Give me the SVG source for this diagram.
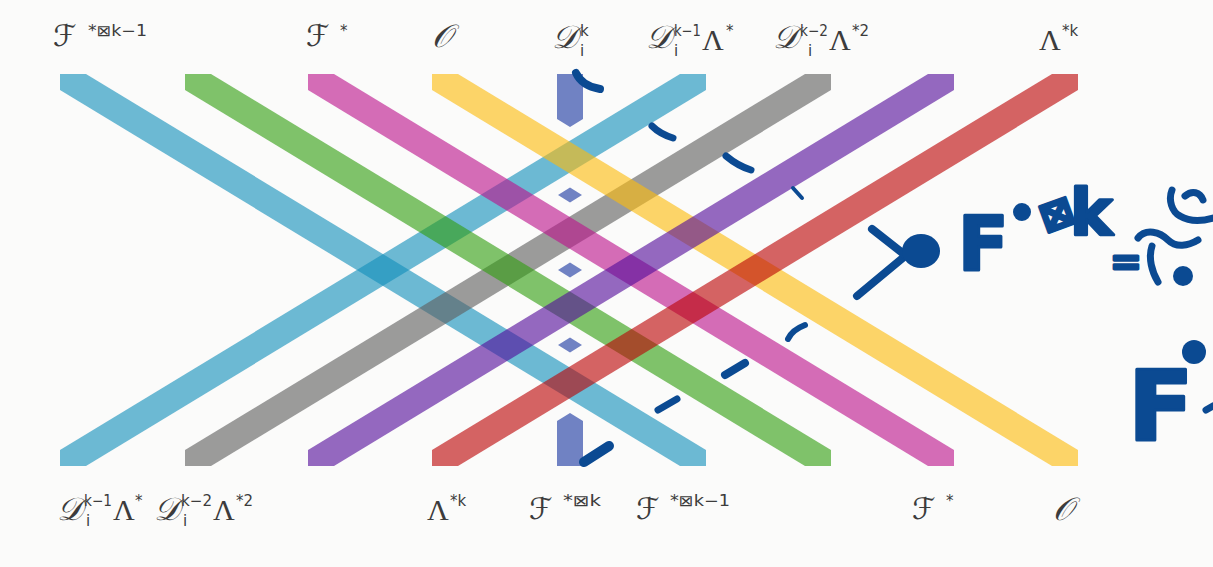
<svg xmlns="http://www.w3.org/2000/svg" width="1213" height="567" viewBox="0 0 1213 567">
<style>
.band{opacity:0.62}
.cy{fill:#1490bb}.gr{fill:#329e12}.pk{fill:#bb148c}.ye{fill:#fcbb0f}
.gy{fill:#5f5f5f}.pu{fill:#540d9b}.rd{fill:#bb0507}.bl{fill:#7082c3}
.scr{font-family:"DejaVu Serif","DejaVu Sans","Noto Sans",serif;font-style:italic;font-size:30px;fill:#3c3c3c}
.scd{font-size:32px}
.lam{font-family:"Liberation Serif","DejaVu Serif",serif;font-size:30px;fill:#3c3c3c}
.sup{font-family:"DejaVu Sans","Noto Sans",sans-serif;font-size:15px;fill:#3c3c3c}
.ink{fill:none;stroke:#0b4a92;stroke-linecap:round;stroke-linejoin:round}
.hw{font-family:"DejaVu Sans","Noto Sans",sans-serif;font-weight:bold;fill:#0b4a92;stroke:#0b4a92;stroke-width:3;stroke-linejoin:round}
</style>
<rect width="1213" height="567" fill="#fbfbfa"/>

<g id="connectors">
  <polygon id="band-cyan-down" class="band cy" points="60,74 86,74 706,450 706,466 680,466 60,90"/>
  <polygon id="band-cyan-up" class="band cy" points="60,466 86,466 706,90 706,74 680,74 60,450"/>
  <polygon id="band-gray-up" class="band gy" points="185,466 211,466 831,90 831,74 805,74 185,450"/>
  <polygon id="band-green-down" class="band gr" points="185,74 211,74 831,450 831,466 805,466 185,90"/>
  <polygon id="band-pink-down" class="band pk" points="308,74 334,74 954,450 954,466 928,466 308,90"/>
  <polygon id="band-yellow-down" class="band ye" points="432,74 458,74 1078,450 1078,466 1052,466 432,90"/>
  <polygon id="band-purple-up" class="band pu" points="308,466 334,466 954,90 954,74 928,74 308,450"/>
  <polygon id="band-red-up" class="band rd" points="432,466 458,466 1078,90 1078,74 1052,74 432,450"/>
  <polygon id="band-center-top" class="bl" points="557,74 583,74 583,119 570,127 557,119"/>
  <polygon id="band-center-bottom" class="bl" points="557,466 557,421 570,413 583,421 583,466"/>
  <polygon class="bl" points="558,195 570,187.5 582,195 570,202.5"/>
  <polygon class="bl" points="558,270 570,262.5 582,270 570,277.5"/>
  <polygon class="bl" points="558,345 570,337.5 582,345 570,352.5"/>
</g>

<g id="labels-top">
  <g id="top-F-k1"><text class="scr" x="53" y="46">ℱ</text><text class="sup" x="88" y="36" textLength="59" lengthAdjust="spacingAndGlyphs">*⊠k−1</text></g>
  <g id="top-F"><text class="scr" x="306" y="46">ℱ</text><text class="sup" x="340" y="36">*</text></g>
  <g id="top-O"><text class="scr scd" x="432" y="47">𝒪</text></g>
  <g id="top-Dk"><text class="scr scd" x="552" y="48">𝒟</text><text class="sup" x="580" y="36">k</text><text class="sup" x="580" y="56">i</text></g>
  <g id="top-Dk1L"><text class="scr scd" x="646" y="48">𝒟</text><text class="sup" x="674" y="36" textLength="27" lengthAdjust="spacingAndGlyphs">k−1</text><text class="sup" x="674" y="56">i</text><text class="lam" x="702" y="50">Λ</text><text class="sup" x="726" y="36">*</text></g>
  <g id="top-Dk2L2"><text class="scr scd" x="773" y="48">𝒟</text><text class="sup" x="800" y="36" textLength="28" lengthAdjust="spacingAndGlyphs">k−2</text><text class="sup" x="808" y="56">i</text><text class="lam" x="829" y="50">Λ</text><text class="sup" x="852" y="36">*2</text></g>
  <g id="top-Lk"><text class="lam" x="1039" y="50">Λ</text><text class="sup" x="1062" y="36">*k</text></g>
</g>

<g id="labels-bottom">
  <g id="bot-Dk1L"><text class="scr scd" x="57" y="520">𝒟</text><text class="sup" x="84" y="506" textLength="28" lengthAdjust="spacingAndGlyphs">k−1</text><text class="sup" x="86" y="526">i</text><text class="lam" x="113" y="520">Λ</text><text class="sup" x="135" y="506">*</text></g>
  <g id="bot-Dk2L2"><text class="scr scd" x="154" y="520">𝒟</text><text class="sup" x="181" y="506" textLength="31" lengthAdjust="spacingAndGlyphs">k−2</text><text class="sup" x="183" y="526">i</text><text class="lam" x="213" y="520">Λ</text><text class="sup" x="236" y="506">*2</text></g>
  <g id="bot-Lk"><text class="lam" x="427" y="520">Λ</text><text class="sup" x="450" y="506">*k</text></g>
  <g id="bot-Fk"><text class="scr" x="529" y="519">ℱ</text><text class="sup" x="563" y="506" textLength="38" lengthAdjust="spacingAndGlyphs">*⊠k</text></g>
  <g id="bot-Fk1"><text class="scr" x="636" y="519">ℱ</text><text class="sup" x="670" y="506" textLength="60" lengthAdjust="spacingAndGlyphs">*⊠k−1</text></g>
  <g id="bot-F"><text class="scr" x="912" y="519">ℱ</text><text class="sup" x="946" y="506">*</text></g>
  <g id="bot-O"><text class="scr scd" x="1053" y="520">𝒪</text></g>
</g>

<g id="annotations">
  <path class="ink" stroke-width="8" d="M576,73 C580,82 588,87 600,89"/>
  <path class="ink" stroke-width="7" d="M652,126 Q660,134 673,138"/>
  <path class="ink" stroke-width="7" d="M726,156 Q738,166 751,170"/>
  <path class="ink" stroke-width="4" d="M793,188 L802,198"/>
  <path class="ink" stroke-width="6" d="M788,339 Q792,330 805,325"/>
  <path class="ink" stroke-width="8" d="M725,375 L745,363"/>
  <path class="ink" stroke-width="7" d="M658,410 L677,399"/>
  <path class="ink" stroke-width="10" d="M584,462 L609,446"/>
  <path class="ink" stroke-width="8" d="M857,296 L904,257"/>
  <path class="ink" stroke-width="8" d="M872,229 L905,255"/>
  <ellipse cx="921" cy="251" rx="19" ry="17" fill="#0b4a92"/>
  <text class="hw" x="958" y="270" font-size="74">F</text>
  <circle cx="1022" cy="212" r="9" fill="#0b4a92"/>
  <text class="hw" x="1039" y="228" font-size="40" transform="rotate(-20 1055 212)">⊠</text>
  <text class="hw" x="1070" y="235" font-size="64">k</text>
  <text class="hw" x="1110" y="274" font-size="38">=</text>
  <path class="ink" stroke-width="7" d="M1172,190 C1168,200 1172,212 1180,216 C1190,222 1200,222 1213,218"/>
  <path class="ink" stroke-width="7" d="M1185,196 C1192,190 1200,192 1203,200"/>
  <path class="ink" stroke-width="7" d="M1138,238 C1146,228 1160,232 1168,240 C1176,248 1188,246 1198,240"/>
  <path class="ink" stroke-width="7" d="M1152,246 C1148,258 1152,272 1158,282"/>
  <circle cx="1183" cy="276" r="10" fill="#0b4a92"/>
  <text class="hw" x="1128" y="440" font-size="96">F</text>
  <circle cx="1194" cy="352" r="12" fill="#0b4a92"/>
  <path class="ink" stroke-width="7" d="M1206,410 L1213,406"/>
</g>
</svg>
